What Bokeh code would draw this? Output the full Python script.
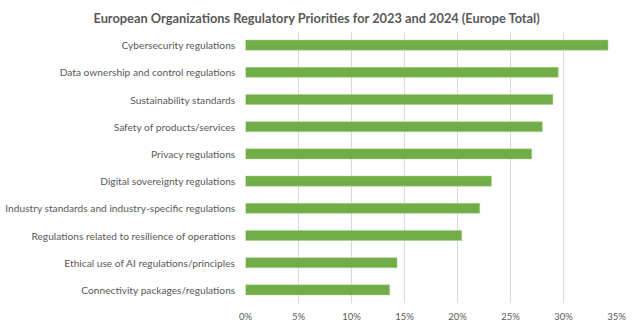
from bokeh.plotting import figure
from bokeh.models import FactorRange, Range1d, NumeralTickFormatter, FixedTicker, ColumnDataSource
from bokeh.embed import file_html
from bokeh.resources import INLINE

categories = [
    "Cybersecurity regulations",
    "Data ownership and control regulations",
    "Sustainability standards",
    "Safety of products/services",
    "Privacy regulations",
    "Digital sovereignty regulations",
    "Industry standards and industry-specific regulations",
    "Regulations related to resilience of operations",
    "Ethical use of AI regulations/principles",
    "Connectivity packages/regulations",
]
values = [0.342, 0.295, 0.290, 0.280, 0.270, 0.232, 0.221, 0.204, 0.143, 0.136]
x_ticks = [0, 0.05, 0.10, 0.15, 0.20, 0.25, 0.30, 0.35]

FONT = "Lato"
GREY = "#595959"

src = ColumnDataSource(dict(cat=categories, val=values))

p = figure(
    width=640, height=327,
    y_range=FactorRange(factors=list(reversed(categories))),
    x_range=Range1d(0, 0.35),
    output_backend="svg", toolbar_location=None,
    title="European Organizations Regulatory Priorities for 2023 and 2024 (Europe Total)",
    min_border_left=245, min_border_right=24, min_border_top=31, min_border_bottom=24,
)
p.hbar(y="cat", right="val", left=0, height=0.37, source=src,
       fill_color="#70ad47", line_color="#a9d08e", line_width=0.5)

p.title.align = "left"
p.title.text_font = FONT
p.title.text_font_size = "12.8px"
p.title.text_font_style = "bold"
p.title.text_color = GREY
p.title.offset = -152
p.title.standoff = 12

p.outline_line_color = None
p.background_fill_color = "white"
p.border_fill_color = "white"

p.ygrid.grid_line_color = None
p.xgrid.grid_line_color = "#d9d9d9"
p.xgrid.grid_line_width = 1
p.xaxis.ticker = FixedTicker(ticks=x_ticks)
p.xgrid.ticker = FixedTicker(ticks=x_ticks)
p.xaxis.formatter = NumeralTickFormatter(format="0%")

for ax in (p.xaxis, p.yaxis):
    ax.axis_line_color = None
    ax.major_tick_line_color = None
    ax.minor_tick_line_color = None
    ax.major_tick_out = 0
    ax.major_tick_in = 0
    ax.minor_tick_out = 0
    ax.minor_tick_in = 0
    ax.major_label_text_font = FONT
    ax.major_label_text_color = GREY
p.yaxis.major_label_text_font_size = "10.2px"
p.xaxis.major_label_text_font_size = "9.5px"
p.yaxis.major_label_standoff = 10
p.xaxis.major_label_standoff = 7

open("out.html", "w").write(file_html(p, INLINE))
